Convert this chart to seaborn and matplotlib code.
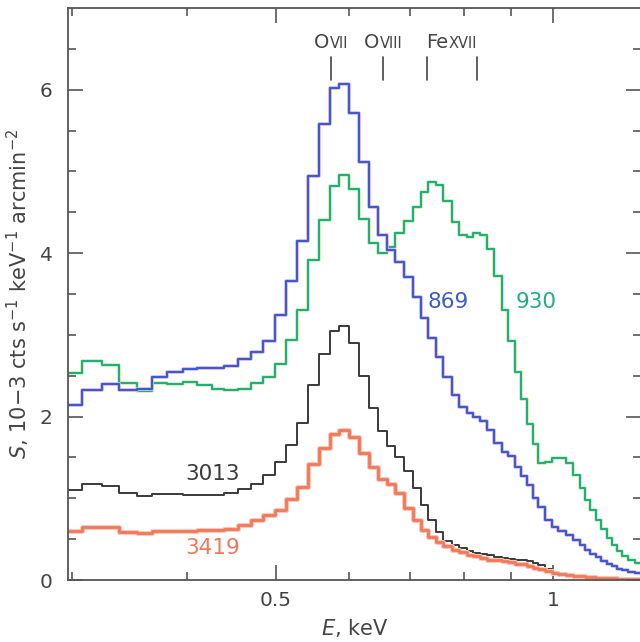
import numpy as np
import pandas as pd
import matplotlib
matplotlib.use("Agg")
import matplotlib.pyplot as plt
import seaborn as sns
from matplotlib.ticker import FixedLocator, FixedFormatter, NullFormatter
from matplotlib.transforms import ScaledTranslation

# ---------------- data ----------------
bin_edges = [0.29, 0.3077, 0.3234, 0.3374, 0.3530, 0.3665, 0.3805, 0.3961, 0.4104, 0.4259,
             0.4390, 0.4547, 0.4697, 0.4840, 0.4987, 0.5126, 0.5270, 0.5417, 0.5568, 0.5724,
             0.5854, 0.6002, 0.6154, 0.6311, 0.6454, 0.6601, 0.6734, 0.6888, 0.7044, 0.7187,
             0.7314, 0.7462, 0.7594, 0.7767, 0.7904, 0.8064, 0.8186, 0.8331, 0.8478, 0.8628,
             0.8803, 0.8936, 0.9094, 0.9232, 0.9372, 0.9514, 0.9634, 0.9804, 0.9976, 1.0128,
             1.0333, 1.0516, 1.0701, 1.0837, 1.0973, 1.1139, 1.1279, 1.1450, 1.1594, 1.1740,
             1.1888, 1.2068, 1.2282, 1.26]

s_869 = [2.14, 2.33, 2.40, 2.33, 2.34, 2.48, 2.54, 2.58, 2.60, 2.60, 2.62, 2.70, 2.79, 2.93,
         3.24, 3.66, 4.15, 4.94, 5.58, 6.02, 6.07, 5.72, 5.12, 4.57, 4.22, 4.04, 3.89, 3.71,
         3.46, 3.21, 2.96, 2.73, 2.48, 2.26, 2.12, 2.04, 2.00, 1.95, 1.84, 1.68, 1.57, 1.52,
         1.38, 1.27, 1.16, 1.00, 0.89, 0.74, 0.65, 0.60, 0.55, 0.49, 0.43, 0.37, 0.32, 0.28,
         0.23, 0.20, 0.17, 0.14, 0.12, 0.10, 0.08]

s_930 = [2.53, 2.68, 2.63, 2.41, 2.31, 2.41, 2.40, 2.42, 2.39, 2.34, 2.32, 2.34, 2.41, 2.49,
         2.64, 2.94, 3.30, 3.92, 4.41, 4.82, 4.96, 4.79, 4.42, 4.12, 4.00, 4.08, 4.25, 4.39,
         4.57, 4.75, 4.87, 4.83, 4.64, 4.38, 4.22, 4.20, 4.25, 4.22, 4.05, 3.72, 3.30, 2.92,
         2.54, 2.21, 1.91, 1.66, 1.43, 1.45, 1.49, 1.49, 1.43, 1.28, 1.12, 0.98, 0.86, 0.73,
         0.62, 0.52, 0.43, 0.35, 0.29, 0.24, 0.21]

s_3013 = [1.10, 1.17, 1.15, 1.06, 1.03, 1.05, 1.05, 1.04, 1.04, 1.04, 1.06, 1.11, 1.18, 1.29,
          1.44, 1.65, 1.92, 2.39, 2.77, 3.05, 3.11, 2.90, 2.50, 2.11, 1.82, 1.64, 1.50, 1.34,
          1.12, 0.92, 0.73, 0.59, 0.48, 0.43, 0.39, 0.36, 0.33, 0.32, 0.30, 0.28, 0.27, 0.26,
          0.25, 0.24, 0.23, 0.21, 0.18, 0.14, 0.10, 0.08, 0.06, 0.05, 0.045, 0.04, 0.035, 0.03,
          0.03, 0.025, 0.02, 0.02, 0.02, 0.015, 0.015]

s_3419 = [0.60, 0.65, 0.65, 0.59, 0.58, 0.60, 0.60, 0.60, 0.61, 0.61, 0.63, 0.67, 0.73, 0.79,
          0.86, 0.99, 1.14, 1.42, 1.61, 1.79, 1.84, 1.75, 1.55, 1.38, 1.24, 1.17, 1.06, 0.88,
          0.73, 0.61, 0.53, 0.46, 0.41, 0.37, 0.34, 0.31, 0.29, 0.27, 0.25, 0.24, 0.23, 0.22,
          0.20, 0.19, 0.17, 0.15, 0.13, 0.11, 0.09, 0.075, 0.06, 0.05, 0.045, 0.04, 0.035, 0.03,
          0.025, 0.02, 0.02, 0.015, 0.015, 0.012, 0.01]

line_energies = [0.574, 0.654, 0.730, 0.826]
line_groups = [("O", "VII", [0.574]), ("O", "VIII", [0.654]), ("Fe", "XVII", [0.730, 0.826])]

x_major = [0.5, 1.0]
x_major_labels = ["0.5", "1"]
x_minor = [0.3, 0.4, 0.6, 0.7, 0.8, 0.9]
y_major = [0, 2, 4, 6]
y_minor = [0.5, 1, 1.5, 2.5, 3, 3.5, 4.5, 5, 5.5, 6.5]

series = [
    ("930", s_930, "#1fae84", "#d8f0b0", 1.5, 2.6, (0.959, 3.40)),
    ("869", s_869, "#3b5ccc", "#efc2ea", 1.6, 2.7, (0.769, 3.40)),
    ("3013", s_3013, "#3a3a3a", None, 1.4, 0, (0.427, 1.30)),
    ("3419", s_3419, "#f2785a", "#fbc8b8", 2.0, 3.6, (0.427, 0.39)),
]

# ---------------- style ----------------
sns.set_theme(style="ticks")
plt.rcParams["font.family"] = ["DejaVu Sans"]
plt.rcParams["mathtext.fontset"] = "dejavusans"
plt.rcParams["mathtext.default"] = "regular"

txt_color = "#444444"
axis_color = "#555555"

fig = plt.figure(figsize=(6.4, 6.42), dpi=100)
ax = fig.add_axes([68 / 640, 1 - 580 / 642, (641 - 68) / 640, (580 - 8) / 642])

for name, vals, color, halo, lw, hlw, _ in series:
    df = pd.DataFrame({"E": bin_edges, "S": list(vals) + [vals[-1]]})
    if halo is not None:
        sns.lineplot(data=df, x="E", y="S", ax=ax, color=halo, lw=hlw,
                     drawstyle="steps-post", estimator=None, sort=False)
    sns.lineplot(data=df, x="E", y="S", ax=ax, color=color, lw=lw,
                 drawstyle="steps-post", estimator=None, sort=False)

ax.set_xscale("log")
ax.set_xlim(0.2971, 1.2468)
ax.set_ylim(0, 7)

ax.xaxis.set_major_locator(FixedLocator(x_major))
ax.xaxis.set_major_formatter(FixedFormatter(x_major_labels))
ax.xaxis.set_minor_locator(FixedLocator(x_minor))
ax.xaxis.set_minor_formatter(NullFormatter())
ax.yaxis.set_major_locator(FixedLocator(y_major))
ax.yaxis.set_minor_locator(FixedLocator(y_minor))

ax.tick_params(which="both", direction="in", top=True, right=True,
               color=axis_color, width=1.2, labelcolor=txt_color, labelsize=14.5)
ax.tick_params(which="major", length=10.5)
ax.tick_params(which="minor", length=5.5)
ax.tick_params(axis="x", which="major", pad=8)
ax.tick_params(axis="y", which="major", pad=11)
for sp in ax.spines.values():
    sp.set_color(axis_color)
    sp.set_linewidth(1.3)

ax.set_xlabel(r"$\mathit{E}$, keV", fontsize=15, color=txt_color, labelpad=5)
ax.set_ylabel("$\\mathit{S}$, 10\u22123 cts s$^{-1}$ keV$^{-1}$ arcmin$^{-2}$",
              fontsize=15, color=txt_color, labelpad=6)

# series labels
for name, vals, color, halo, lw, hlw, (lx, ly) in series:
    ax.text(lx, ly, name, color=color, fontsize=15.5, ha="center", va="center")

# spectral line markers
for e in line_energies:
    ax.plot([e, e], [6.12, 6.40], color=txt_color, lw=1.2)

pairs = []
for big, small, es in line_groups:
    xc = float(np.exp(np.mean(np.log(es))))
    t1 = ax.text(xc, 6.51, big, fontsize=14, color=txt_color, ha="left", va="baseline")
    t2 = ax.text(xc, 6.51, small, fontsize=10.5, color=txt_color, ha="left", va="baseline")
    pairs.append((t1, t2))

fig.canvas.draw()
for t1, t2 in pairs:
    b1 = t1.get_window_extent()
    b2 = t2.get_window_extent()
    w1 = b1.width
    w = w1 + b2.width
    t1.set_transform(ax.transData + ScaledTranslation(-w / 2 / fig.dpi, 0, fig.dpi_scale_trans))
    t2.set_transform(ax.transData + ScaledTranslation((w1 - w / 2) / fig.dpi, 0, fig.dpi_scale_trans))

fig.savefig("out.png", dpi=100)
